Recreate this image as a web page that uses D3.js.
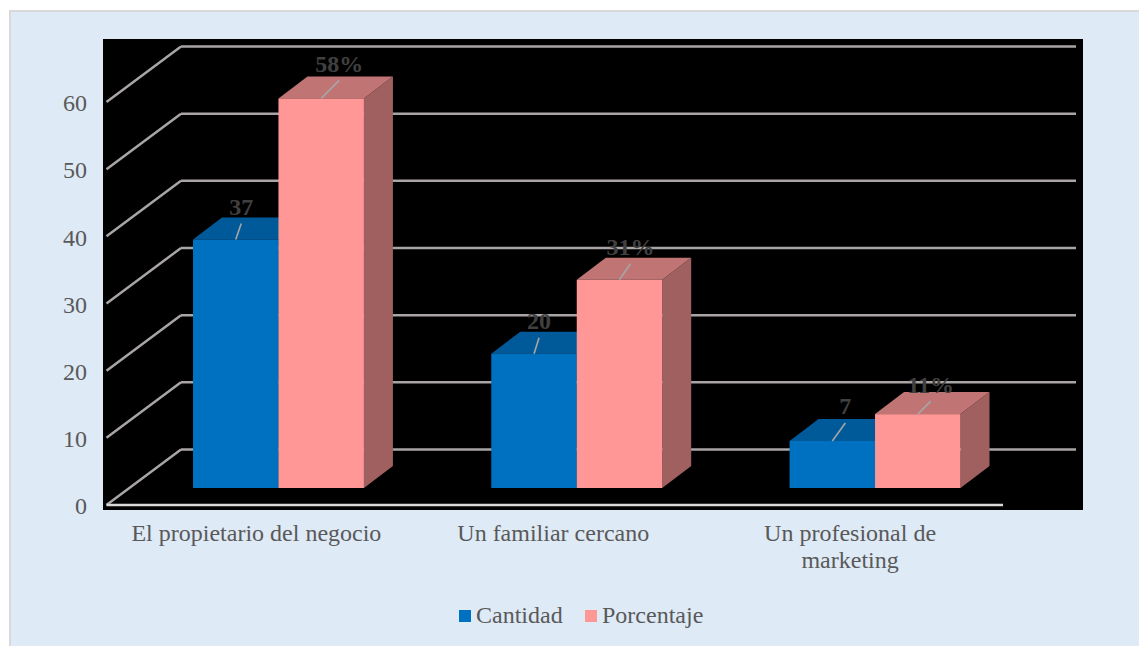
<!DOCTYPE html>
<html lang="es">
<head>
<meta charset="utf-8">
<title>Cantidad y porcentaje</title>
<script src="https://cdn.jsdelivr.net/npm/d3@7/dist/d3.min.js"></script>
<style>
  html, body { margin: 0; padding: 0; background: #fff; overflow: hidden; }
  svg { display: block; font-family: "Liberation Serif", serif; }
</style>
</head>
<body>
<svg id="chart" width="1139" height="646"></svg>
<script>
const categories = ["El propietario del negocio", "Un familiar cercano", "Un profesional de marketing"];
const seriesNames = ["Cantidad", "Porcentaje"];
const cantidad = [37, 20, 7];
const porcentaje = [58, 31, 11];
const yTicks = [0, 10, 20, 30, 40, 50, 60];

const seriesValues = [cantidad, porcentaje];
const labelFormats = [d => `${d}`, d => `${d}%`];
const frontColors = ["#0070c0", "#ff9797"];
const topColors = ["#005a9a", "#c07474"];
const sideColors = ["#005088", "#a06060"];

// Leader line ends, relative to the middle of each bar's front top edge.
const leaders = [
  [[5.5, -16], [5, -16], [13, -18]],
  [[18, -18], [11, -16], [13, -13]]
];

const svg = d3.select("#chart");
// The panel runs off the right and bottom edges, so only its top and left borders show.
svg.append("rect").attr("x", 10).attr("y", 11).attr("width", 1140).attr("height", 650)
  .attr("fill", "#deeaf6").attr("stroke", "#d9d9d9").attr("stroke-width", 2);
svg.append("rect").attr("x", 103).attr("y", 39).attr("width", 980).attr("height", 471).attr("fill", "#000");

// Front plane of the 3-D box and the shift to its back wall.
const y = d3.scaleLinear().domain([0, 60]).range([505, 102]);
const wall = { dx: 74.5, dy: -55.5 };
const floorLeft = 106.5, floorRight = 1003;

const grid = svg.append("g");
grid.selectAll("line.side").data(yTicks).join("line").attr("class", "side")
  .attr("x1", floorLeft).attr("y1", d => y(d))
  .attr("x2", floorLeft + wall.dx).attr("y2", d => y(d) + wall.dy);
grid.selectAll("line.back").data(yTicks).join("line").attr("class", "back")
  .attr("x1", floorLeft + wall.dx).attr("y1", d => y(d) + wall.dy)
  .attr("x2", floorRight + wall.dx - 1.5).attr("y2", d => y(d) + wall.dy);
grid.selectAll("line").attr("stroke", "#a9a5a5").attr("stroke-width", 2.5);
grid.append("line").attr("x1", floorLeft).attr("y1", y(0)).attr("x2", floorRight).attr("y2", y(0))
  .attr("stroke", "#d9d9d9").attr("stroke-width", 2.5);

// Bars stand on a base line set in from the front of the floor.
const baseY = 488;
const depth = { dx: 29, dy: -22 };
const x0 = d3.scaleBand().domain(categories).range([193, 960.5]).paddingInner(0.427);
const x1 = d3.scaleBand().domain(seriesNames).range([0, x0.bandwidth()]);
const h = v => y(0) - y(v);

const drawBar = (g, si, ci, v) => {
  const left = x0(categories[ci]) + x1(seriesNames[si]);
  const w = x1.bandwidth();
  const top = baseY - h(v);
  g.append("path")
    .attr("d", d3.line()([[left + w, top], [left + w + depth.dx, top + depth.dy], [left + w + depth.dx, baseY + depth.dy], [left + w, baseY]]))
    .attr("fill", sideColors[si]);
  g.append("path")
    .attr("d", d3.line()([[left, top], [left + depth.dx, top + depth.dy], [left + w + depth.dx, top + depth.dy], [left + w, top]]))
    .attr("fill", topColors[si]);
  g.append("rect").attr("x", left).attr("y", top).attr("width", w).attr("height", h(v))
    .attr("fill", frontColors[si]);
};

const bars = svg.append("g");
categories.forEach((c, ci) => seriesValues.forEach((vals, si) => drawBar(bars, si, ci, vals[ci])));

// Data labels with their leader lines.
const labels = svg.append("g");
seriesValues.forEach((vals, si) => vals.forEach((v, ci) => {
  const cx = x0(categories[ci]) + x1(seriesNames[si]) + x1.bandwidth() / 2;
  const top = baseY - h(v);
  const [lx, ly] = leaders[si][ci];
  labels.append("line").attr("x1", cx).attr("y1", top).attr("x2", cx + lx).attr("y2", top + ly)
    .attr("stroke", "#a6a6a6").attr("stroke-width", 1.6);
  labels.append("text").attr("x", cx + lx).attr("y", top + ly - 8.5)
    .attr("text-anchor", "middle").attr("font-size", 24).attr("font-weight", "bold")
    .attr("fill", "#404040").text(labelFormats[si](v));
}));

// Value axis.
const axis = d3.axisLeft(y).tickValues(yTicks).tickSize(0).tickPadding(0);
const axisG = svg.append("g").attr("transform", "translate(87,1)").call(axis);
axisG.select(".domain").remove();
axisG.selectAll("text").attr("font-size", 24).attr("font-family", "Liberation Serif").attr("fill", "#595959");

// Category labels, the last one wrapped over two lines.
const catLines = [["El propietario del negocio"], ["Un familiar cercano"], ["Un profesional de", "marketing"]];
const catCenters = d3.scaleBand().domain(categories).range([108, 998.5]);
svg.append("g").selectAll("text").data(categories).join("text")
  .attr("text-anchor", "middle").attr("font-size", 24).attr("fill", "#595959")
  .each(function (d, i) {
    const cx = catCenters(d) + catCenters.bandwidth() / 2;
    d3.select(this).selectAll("tspan").data(catLines[i]).join("tspan")
      .attr("x", cx).attr("y", (l, j) => 541 + j * 27).text(l => l);
  });

// Legend.
const legendX = [459, 585];
const legend = svg.append("g").selectAll("g").data(seriesNames).join("g")
  .attr("transform", (d, i) => `translate(${legendX[i]},610)`);
legend.append("rect").attr("width", 12).attr("height", 12).attr("fill", (d, i) => frontColors[i]);
legend.append("text").attr("x", 17).attr("y", 13).attr("font-size", 24)
  .attr("fill", "#595959").text(d => d);
</script>
</body>
</html>
